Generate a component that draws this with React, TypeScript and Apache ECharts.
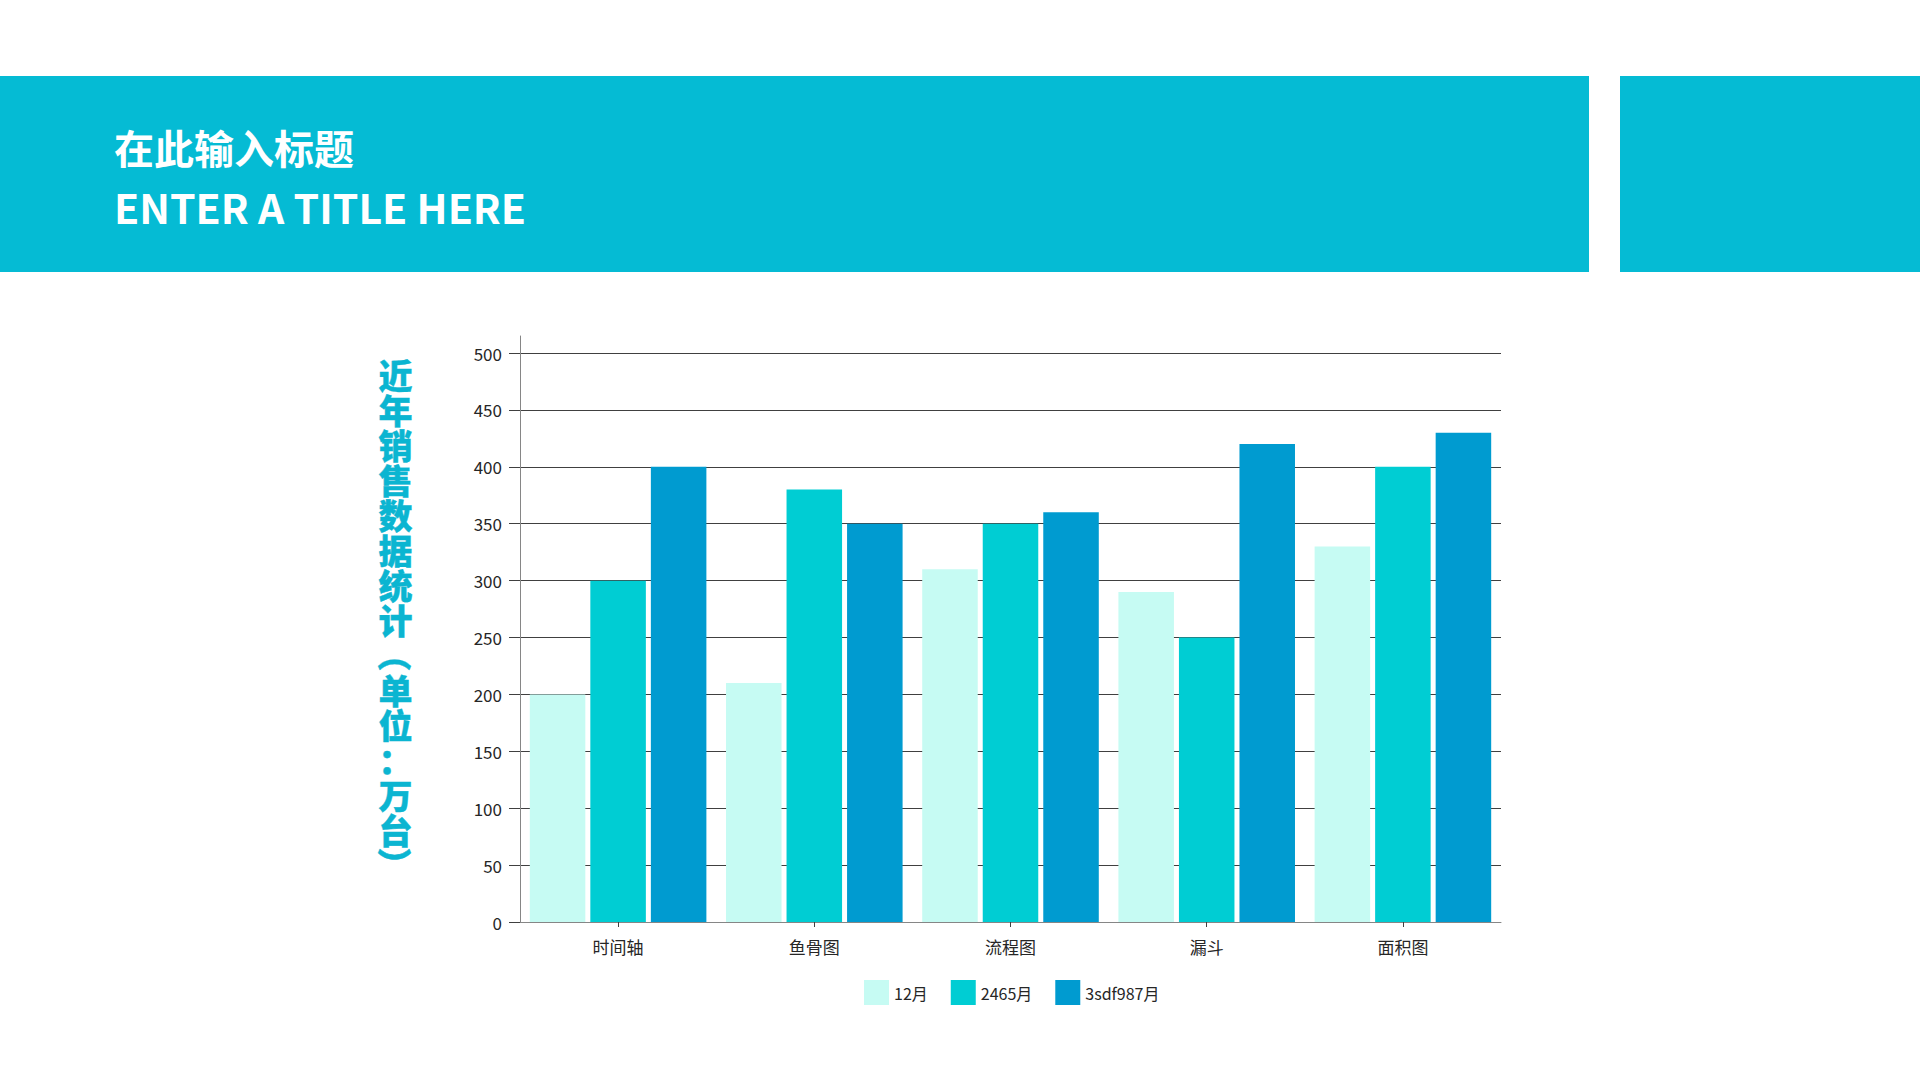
import React, { useEffect, useRef } from "react";
import * as echarts from "echarts";

const categories = ["时间轴", "鱼骨图", "流程图", "漏斗", "面积图"];
const seriesNames = ["12月", "2465月", "3sdf987月"];
const values12 = [200, 210, 310, 290, 330];
const values2465 = [300, 380, 350, 250, 400];
const values3sdf = [400, 350, 360, 420, 430];
const seriesColors = ["#C6FBF3", "#00CDD3", "#009BD0"];
const titleCn = "在此输入标题";
const titleEn = "ENTER A TITLE HERE";
const yNameMain = ["近", "年", "销", "售", "数", "据", "统", "计"];
const yNameUnit = ["单", "位", "：", "万", "台"];

const FONT = '"Noto Sans CJK SC", "Noto Sans", sans-serif';
const BAND = "#05BBD4";
const NAME_COLOR = "#0BB5D1";

export default function App() {
  const ref = useRef<HTMLDivElement>(null);

  useEffect(() => {
    if (!ref.current) return;
    const chart = echarts.init(ref.current, undefined, { renderer: "svg" });
    const seriesData = [values12, values2465, values3sdf];
    const nameX = 395.5;
    const pitch = 35;
    const nameTop = 357;
    const nameFont = `900 34px ${FONT}`;
    const nameStyle = { fill: NAME_COLOR, stroke: NAME_COLOR, lineWidth: 0.4, font: nameFont };
    chart.setOption({
      animation: false,
      backgroundColor: "#ffffff",
      textStyle: { fontFamily: FONT },
      grid: { left: 520, right: 419, top: 336, bottom: 158, containLabel: false },
      legend: {
        left: 864,
        top: 980,
        padding: 0,
        itemWidth: 25,
        itemHeight: 25,
        itemGap: 23,
        icon: "rect",
        data: seriesNames,
        textStyle: { fontSize: 16, color: "#262626", fontFamily: FONT },
      },
      xAxis: {
        type: "category",
        data: categories,
        axisLine: { show: true, lineStyle: { color: "#868686", width: 1 } },
        axisTick: { show: true, alignWithLabel: true, length: 5, lineStyle: { color: "#404040" } },
        axisLabel: { fontSize: 17, color: "#262626", margin: 16, fontFamily: FONT },
        splitLine: { show: false },
      },
      yAxis: {
        type: "value",
        min: 0,
        max: 515,
        interval: 50,
        axisLine: { show: true, lineStyle: { color: "#868686", width: 1 } },
        axisTick: { show: true, length: 11, lineStyle: { color: "#404040" } },
        axisLabel: { fontSize: 17, color: "#262626", margin: 18, showMaxLabel: false, fontFamily: FONT },
        splitLine: { show: true, showMaxLine: false, lineStyle: { color: "#404040", width: 1 } },
      },
      series: seriesNames.map((name, i) => ({
        name,
        type: "bar",
        data: seriesData[i],
        barCategoryGap: "10%",
        barGap: "9%",
        itemStyle: { color: seriesColors[i] },
      })),
      graphic: [
        { type: "rect", shape: { x: 0, y: 76, width: 1589, height: 196 }, style: { fill: BAND }, z: -1 },
        { type: "rect", shape: { x: 1620, y: 76, width: 300, height: 196 }, style: { fill: BAND }, z: -1 },
        {
          type: "text",
          x: 114,
          y: 147,
          style: { text: titleCn, fill: "#ffffff", font: `bold 40px ${FONT}`, textAlign: "left", textVerticalAlign: "middle" },
        },
        {
          type: "text",
          x: 114,
          y: 206,
          style: { text: titleEn, fill: "#ffffff", font: `bold 41px ${FONT}`, textAlign: "left", textVerticalAlign: "middle" },
        },
        {
          type: "text",
          x: nameX,
          y: nameTop,
          style: {
            ...nameStyle,
            text: yNameMain.join("\n"),
            lineHeight: pitch,
            textAlign: "center",
            textVerticalAlign: "top",
          },
        },
        {
          type: "text",
          x: nameX,
          y: nameTop + pitch * 8.5,
          rotation: -Math.PI / 2,
          style: { ...nameStyle, text: "（", textAlign: "center", textVerticalAlign: "middle" },
        },
        {
          type: "text",
          x: nameX,
          y: nameTop + pitch * 9,
          style: {
            ...nameStyle,
            text: yNameUnit.join("\n"),
            lineHeight: pitch,
            textAlign: "center",
            textVerticalAlign: "top",
          },
        },
        {
          type: "text",
          x: nameX,
          y: nameTop + pitch * 14.5,
          rotation: -Math.PI / 2,
          style: { ...nameStyle, text: "）", textAlign: "center", textVerticalAlign: "middle" },
        },
      ],
    });
    return () => chart.dispose();
  }, []);

  return <div ref={ref} style={{ position: "absolute", left: 0, top: 0, width: 1920, height: 1080 }} />;
}
